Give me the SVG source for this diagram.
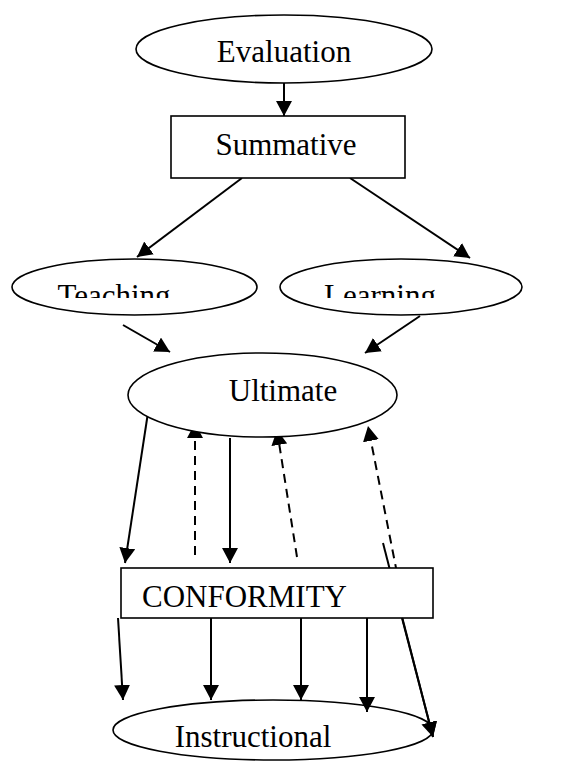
<svg xmlns="http://www.w3.org/2000/svg" width="563" height="763" viewBox="0 0 563 763">
<style>
.n{fill:#fff;stroke:#000;stroke-width:1.6}
.t{font-family:"Liberation Serif","Times New Roman",serif;font-size:31px;fill:#000}
.c{stroke:#000;stroke-width:2;fill:none}
.d{stroke-dasharray:9 6}
</style>
<defs>
<marker id="a" markerUnits="userSpaceOnUse" markerWidth="16" markerHeight="16" viewBox="0 0 16 16" refX="15" refY="8" orient="auto">
<path d="M0,0 L15,8 L0,16 Z" fill="#000"/>
</marker>
<clipPath id="cl"><rect x="0" y="250" width="563" height="48"/></clipPath>
</defs>
<g id="connectors">
<line class="c" x1="284" y1="83" x2="284" y2="116" marker-end="url(#a)"/>
<line class="c" x1="242" y1="178" x2="137" y2="257" marker-end="url(#a)"/>
<line class="c" x1="350" y1="178" x2="470" y2="258" marker-end="url(#a)"/>
<line class="c" x1="123" y1="325" x2="170" y2="352" marker-end="url(#a)"/>
<line class="c" x1="420" y1="316" x2="365" y2="353" marker-end="url(#a)"/>
<line class="c" x1="149" y1="406" x2="125" y2="563" marker-end="url(#a)"/>
<line class="c d" x1="195" y1="555" x2="195" y2="423" marker-end="url(#a)"/>
<line class="c" x1="230" y1="438" x2="230" y2="563" marker-end="url(#a)"/>
<line class="c d" x1="297" y1="557" x2="277" y2="430" marker-end="url(#a)"/>
<line class="c d" x1="397" y1="573" x2="368" y2="426" marker-end="url(#a)"/>
<line class="c" x1="383" y1="543" x2="433" y2="737" marker-end="url(#a)"/>
</g>
<g id="evaluation"><ellipse class="n" cx="284" cy="49" rx="148" ry="34"/><text class="t" x="284" y="62" text-anchor="middle">Evaluation</text></g>
<g id="summative"><rect class="n" x="171" y="116" width="234" height="62"/><text class="t" x="286" y="155" text-anchor="middle">Summative</text></g>
<g id="teaching"><ellipse class="n" cx="134.5" cy="287" rx="122.5" ry="28"/><text class="t" x="114" y="306" text-anchor="middle" clip-path="url(#cl)">Teaching</text></g>
<g id="learning"><ellipse class="n" cx="401" cy="287" rx="121" ry="28"/><text class="t" x="380" y="306" text-anchor="middle" clip-path="url(#cl)">Learning</text></g>
<g id="ultimate"><ellipse class="n" cx="262.5" cy="395" rx="134.5" ry="42"/><text class="t" x="283" y="401" text-anchor="middle">Ultimate</text></g>
<g id="conformity"><rect class="n" x="121" y="568" width="312" height="50"/><text class="t" x="142" y="607">CONFORMITY</text></g>
<g id="instructional"><ellipse class="n" cx="273" cy="730" rx="160" ry="30"/><text class="t" x="253" y="747" text-anchor="middle">Instructional</text></g>
<g id="connectors-over">
<line class="c" x1="118" y1="618" x2="123" y2="700" marker-end="url(#a)"/>
<line class="c" x1="211" y1="618" x2="211" y2="700" marker-end="url(#a)"/>
<line class="c" x1="301" y1="618" x2="301" y2="700" marker-end="url(#a)"/>
<line class="c" x1="367" y1="618" x2="367" y2="712" marker-end="url(#a)"/>
<line class="c" x1="402" y1="618" x2="433" y2="737" marker-end="url(#a)"/>
</g>
</svg>
